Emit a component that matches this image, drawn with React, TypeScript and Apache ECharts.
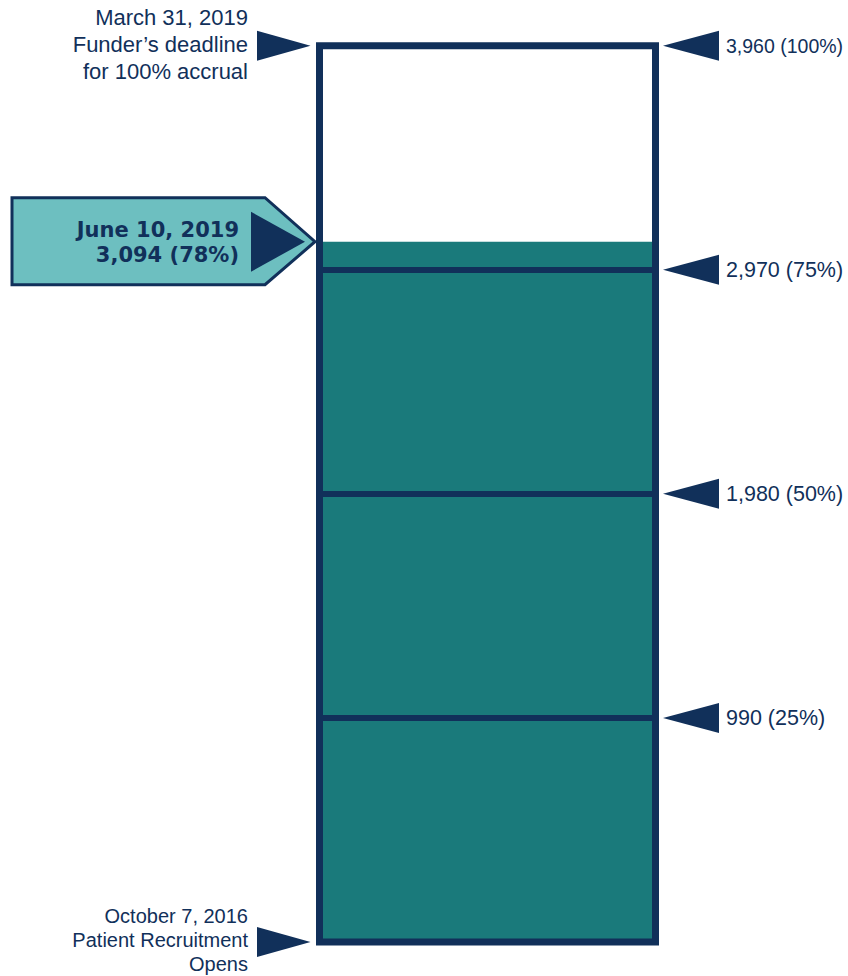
import React, { useEffect, useRef } from "react";
import * as echarts from "echarts";

const NAVY = "#11305a";
const TEAL = "#1a7a7b";
const LIGHT = "#6dbfc0";
const SANS = "Liberation Sans";

const categories = ["Accrual"];
const targetValue = 3960;
const enrolledValue = 3094;
const milestoneValues = [990, 1980, 2970, 3960];
const milestoneLabels = ["990 (25%)", "1,980 (50%)", "2,970 (75%)", "3,960 (100%)"];
const dividerValues = [990, 1980, 2970];
const leftEventValues = [3960, 0];
const leftEventLabels = [
  "March 31, 2019\nFunder\u2019s deadline\nfor 100% accrual",
  "October 7, 2016\nPatient Recruitment\nOpens",
];
const enrolledLabel = "June 10, 2019\n3,094 (78%)";

export default function App() {
  const ref = useRef<HTMLDivElement>(null);
  useEffect(() => {
    if (!ref.current) return;
    const chart = echarts.init(ref.current, undefined, { renderer: "svg" });

    chart.setOption({
      animation: false,
      grid: { left: 319.5, right: 192.5, top: 45.7, bottom: 34 },
      xAxis: { type: "category", data: categories, show: false },
      yAxis: { type: "value", min: 0, max: targetValue, show: false, splitLine: { show: false } },
      series: [
        {
          type: "bar",
          data: [enrolledValue],
          barWidth: "100%",
          itemStyle: { color: TEAL },
          z: 1,
          markLine: {
            silent: true,
            symbol: ["none", "none"],
            label: { show: false },
            lineStyle: { color: NAVY, width: 6, type: "solid" },
            data: dividerValues.map((v) => ({ yAxis: v })),
            z: 3,
          },
        },
        {
          type: "custom",
          z: 4,
          data: [[0, targetValue]],
          renderItem: (params: any, api: any) => {
            const cs = params.coordSys;
            const top = api.coord([0, api.value(1)])[1];
            const bottom = api.coord([0, 0])[1];
            return {
              type: "rect",
              shape: { x: cs.x, y: top, width: cs.width, height: bottom - top },
              style: { fill: "none", stroke: NAVY, lineWidth: 7 },
            };
          },
        },
        {
          type: "custom",
          z: 5,
          data: milestoneValues.map((v) => [0, v]),
          renderItem: (params: any, api: any) => {
            const cs = params.coordSys;
            const right = cs.x + cs.width;
            const y = api.coord([0, api.value(1)])[1];
            const isLast = params.dataIndex === milestoneValues.length - 1;
            return {
              type: "group",
              children: [
                {
                  type: "polygon",
                  shape: { points: [[right + 7.5, y], [right + 63.5, y - 15], [right + 63.5, y + 15]] },
                  style: { fill: NAVY },
                },
                {
                  type: "text",
                  style: {
                    text: milestoneLabels[params.dataIndex],
                    x: right + 70.5,
                    y: y,
                    align: "left",
                    verticalAlign: "middle",
                    fontSize: isLast ? 19.5 : 21.5,
                    fontFamily: SANS,
                    fill: NAVY,
                  },
                },
              ],
            };
          },
        },
        {
          type: "custom",
          z: 5,
          data: leftEventValues.map((v) => [0, v]),
          renderItem: (params: any, api: any) => {
            const cs = params.coordSys;
            const left = cs.x;
            const y = api.coord([0, api.value(1)])[1];
            const isTop = params.dataIndex === 0;
            return {
              type: "group",
              children: [
                {
                  type: "polygon",
                  shape: { points: [[left - 9, y], [left - 62.5, y - 15], [left - 62.5, y + 15]] },
                  style: { fill: NAVY },
                },
                {
                  type: "text",
                  style: {
                    text: leftEventLabels[params.dataIndex],
                    x: left - 71.5,
                    y: isTop ? y - 1.5 : y - 2.5,
                    align: "right",
                    verticalAlign: "middle",
                    lineHeight: isTop ? 27 : 24,
                    fontSize: isTop ? 22 : 20,
                    fontFamily: SANS,
                    fill: NAVY,
                  },
                },
              ],
            };
          },
        },
        {
          type: "custom",
          z: 6,
          data: [[0, enrolledValue]],
          renderItem: (params: any, api: any) => {
            const cs = params.coordSys;
            const left = cs.x;
            const y = api.coord([0, api.value(1)])[1];
            return {
              type: "group",
              children: [
                {
                  type: "polygon",
                  shape: {
                    points: [
                      [12, y - 44],
                      [left - 54.5, y - 44],
                      [left - 4.5, y],
                      [left - 54.5, y + 43],
                      [12, y + 43],
                    ],
                  },
                  style: { fill: LIGHT, stroke: NAVY, lineWidth: 3, lineJoin: "miter" },
                },
                {
                  type: "polygon",
                  shape: { points: [[left - 14.5, y], [left - 68.5, y - 30], [left - 68.5, y + 30]] },
                  style: { fill: NAVY },
                },
                {
                  type: "text",
                  style: {
                    text: enrolledLabel,
                    x: left - 80.5,
                    y: y + 0.5,
                    align: "right",
                    verticalAlign: "middle",
                    lineHeight: 25,
                    fontSize: 21,
                    fontWeight: "bold",
                    fontFamily: "DejaVu Sans",
                    fill: NAVY,
                  },
                },
              ],
            };
          },
        },
      ],
    });
    return () => chart.dispose();
  }, []);
  return (
    <div
      ref={ref}
      style={{ position: "fixed", left: 0, top: 0, width: 848, height: 976, background: "#ffffff" }}
    />
  );
}
